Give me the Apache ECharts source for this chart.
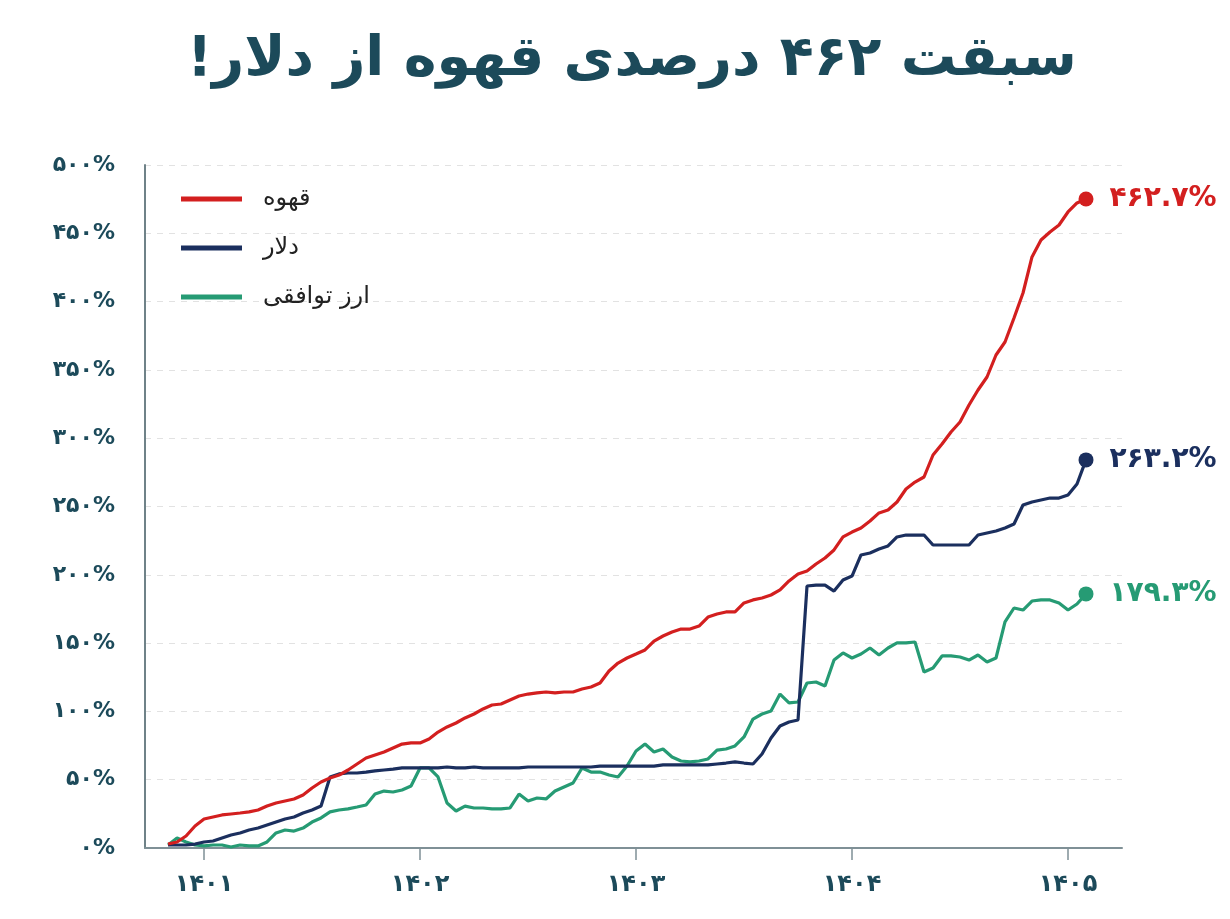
<!DOCTYPE html>
<html lang="fa" style="height: 100%">
<head>
  <meta charset="utf-8">
</head>
<body style="height: 100%; margin: 0; background: #fff">
  <div id="container" dir="rtl" style="width: 1230px; height: 919px"></div>

  <script type="text/javascript" src="https://fastly.jsdelivr.net/npm/echarts@6.0.0/dist/echarts.min.js"></script>
  <script type="text/javascript">
// growth since the start, in percent, sampled every half month (month 0 = start of 1401)
var coffee = [2.9, 4.4, 8.8, 16.1, 21.2, 22.7, 24.2, 24.9, 25.6, 26.4, 27.8, 30.7, 32.9, 34.4, 35.9, 38.8, 43.9, 48.3, 51.2, 53.4,
  57.1, 61.5, 65.9, 68.1, 70.3, 73.2, 76.1, 76.9, 76.9, 79.8, 84.9, 88.6, 91.5, 95.2, 98.1, 101.8, 104.7, 105.4, 108.4, 111.3,
  112.7, 113.5, 114.2, 113.5, 114.2, 114.2, 116.4, 117.9, 120.8, 129.6, 135.4, 139.1, 142.0, 145.0, 151.5, 155.2, 158.1, 160.3, 160.3, 162.5,
  169.1, 171.3, 172.8, 172.8, 179.4, 181.6, 183.0, 185.2, 188.9, 195.5, 200.6, 202.8, 207.9, 212.3, 218.2, 227.7, 231.3, 234.3, 239.4, 245.3,
  247.4, 253.3, 262.8, 267.9, 271.6, 287.7, 295.8, 304.5, 311.9, 324.3, 335.3, 344.8, 360.9, 370.4, 388.0, 406.3, 432.7, 445.1, 451.0, 456.1,
  465.6, 472.2, 475.1];
var dollar = [2.2, 2.2, 2.2, 2.9, 4.4, 5.1, 7.3, 9.5, 11.0, 13.2, 14.6, 16.8, 19.0, 21.2, 22.7, 25.6, 27.8, 30.7, 52.0, 54.2,
  54.9, 54.9, 55.6, 56.4, 57.1, 57.8, 58.6, 58.6, 58.6, 58.6, 58.6, 59.3, 58.6, 58.6, 59.3, 58.6, 58.6, 58.6, 58.6, 58.6,
  59.3, 59.3, 59.3, 59.3, 59.3, 59.3, 59.3, 59.3, 60.0, 60.0, 60.0, 60.0, 60.0, 60.0, 60.0, 60.8, 60.8, 60.8, 60.8, 60.8,
  60.8, 61.5, 62.2, 63.0, 62.2, 61.5, 68.8, 80.5, 89.3, 92.2, 93.7, 191.8, 192.5, 192.5, 188.1, 196.2, 199.1, 214.5, 216.0, 218.9,
  221.1, 227.7, 229.1, 229.1, 229.1, 221.8, 221.8, 221.8, 221.8, 221.8, 229.1, 230.6, 232.1, 234.3, 237.2, 251.1, 253.3, 254.8, 256.2, 256.2,
  258.4, 266.5, 284.1];
var agreedRate = [2.2, 7.3, 4.4, 2.2, 1.5, 2.2, 2.2, 0.7, 2.2, 1.5, 1.5, 4.4, 11.0, 13.2, 12.4, 14.6, 19.0, 22.0, 26.4, 27.8,
  28.6, 30.0, 31.5, 39.5, 41.7, 41.0, 42.5, 45.4, 58.6, 58.6, 52.0, 32.9, 27.1, 30.7, 29.3, 29.3, 28.6, 28.6, 29.3, 39.5,
  34.4, 36.6, 35.9, 41.7, 44.7, 47.6, 58.6, 55.6, 55.6, 53.4, 52.0, 60.0, 71.0, 76.1, 70.3, 72.5, 66.6, 63.7, 63.0, 63.7,
  65.2, 71.7, 72.5, 74.7, 81.3, 94.4, 98.1, 100.3, 112.7, 106.2, 106.9, 120.8, 121.5, 118.6, 137.6, 142.8, 139.1, 142.0, 146.4, 141.3,
  146.4, 150.1, 150.1, 150.8, 128.9, 131.8, 140.6, 140.6, 139.8, 137.6, 141.3, 136.2, 139.1, 165.5, 175.7, 174.2, 180.8, 181.6, 181.6, 179.4,
  174.2, 178.6, 186.0];

var seriesNames = ['قهوه', 'دلار', 'ارز توافقی'];
var seriesColors = ['#d31f1f', '#1b2f5e', '#269b74'];
var endLabels = ['۴۶۲.۷%', '۲۶۳.۲%', '۱۷۹.۳%'];
var yearTicks = [0, 12, 24, 36, 48]; // months from start of 1401
var firstYear = 1401;

var months = [];
for (var k = 0; k < coffee.length; k++) months.push(-2 + k * 0.5);

function fa(s) {
  return String(s).replace(/\d/g, function (d) { return '۰۱۲۳۴۵۶۷۸۹'[d]; });
}
function pairs(vals) {
  return vals.map(function (v, i) { return [months[i], v]; });
}

var allSeries = [coffee, dollar, agreedRate];
var lineSeries = allSeries.map(function (vals, i) {
  return {
    name: seriesNames[i],
    type: 'line',
    data: pairs(vals),
    symbol: 'none',
    color: seriesColors[i],
    lineStyle: { width: 3.2, color: seriesColors[i] },
    z: 5 - i
  };
});

var ends = allSeries.map(function (vals, i) {
  return {
    value: [months[vals.length - 1], vals[vals.length - 1]],
    itemStyle: { color: seriesColors[i], opacity: 1 },
    label: { formatter: endLabels[i], color: seriesColors[i] }
  };
});

var font = '"DejaVu Sans", sans-serif';
var dom = document.getElementById('container');
var myChart = echarts.init(dom, null, { renderer: 'canvas' });

var option = {
  backgroundColor: '#ffffff',
  animation: false,
  title: {
    text: 'سبقت ۴۶۲ درصدی قهوه از دلار!',
    left: 182,
    top: 28,
    textStyle: { fontFamily: font, fontSize: 55.5, fontWeight: 'bold', color: '#1c4a5a' }
  },
  legend: {
    data: seriesNames,
    orient: 'vertical',
    left: 176,
    top: 179,
    icon: 'rect',
    itemWidth: 61,
    itemHeight: 5,
    itemGap: 19,
    textStyle: { fontFamily: font, fontSize: 24, color: '#222', padding: [0, 0, 0, 16], lineHeight: 30 }
  },
  grid: { left: 145, right: 108, top: 165, bottom: 71, containLabel: false },
  xAxis: {
    type: 'value',
    min: -3.28,
    max: 51,
    splitLine: { show: false },
    axisLine: { show: true, onZero: false, lineStyle: { color: '#7f9096', width: 2 } },
    axisTick: { show: true, customValues: yearTicks, length: 12, lineStyle: { color: '#7f9096', width: 1.5 } },
    axisLabel: {
      customValues: yearTicks,
      margin: 25,
      formatter: function (v) { return fa(firstYear + v / 12); },
      fontFamily: font, fontSize: 24, fontWeight: 'bold', color: '#1c4a5a'
    }
  },
  yAxis: {
    type: 'value',
    min: 0,
    max: 500,
    interval: 50,
    axisLine: { show: true, onZero: false, lineStyle: { color: '#6f8288', width: 2 } },
    axisTick: { show: false },
    splitLine: { show: true, lineStyle: { color: '#e2e2e2', type: [6, 6], width: 1 } },
    axisLabel: {
      margin: 30,
      formatter: function (v) { return fa(v) + '%'; },
      fontFamily: font, fontSize: 22, fontWeight: 'bold', color: '#1c4a5a'
    }
  },
  series: lineSeries.concat([{
    name: 'ends',
    type: 'scatter',
    symbolSize: 15,
    data: ends,
    z: 10,
    itemStyle: { opacity: 1 },
    label: { show: true, position: 'right', distance: 16, fontFamily: font, fontSize: 28, fontWeight: 'bold' }
  }])
};

myChart.setOption(option);
window.addEventListener('resize', myChart.resize);
  </script>
</body>
</html>
